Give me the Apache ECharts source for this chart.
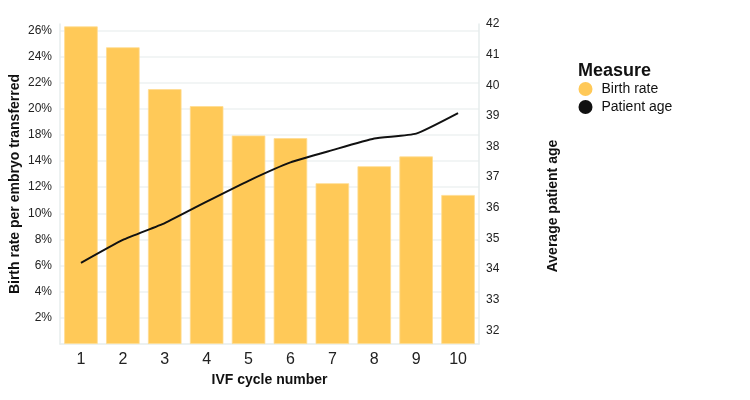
<!DOCTYPE html>
<html>
<head>
<meta charset="utf-8">
<script src="https://cdn.jsdelivr.net/npm/echarts@6/dist/echarts.min.js"></script>
<style>html,body{margin:0;padding:0;background:#fff}#c{width:750px;height:400px}</style>
</head>
<body>
<div id="c"></div>
<script>
var cycles = ['1','2','3','4','5','6','7','8','9','10'];
var birthRate = [26.3, 24.7, 21.5, 20.2, 17.9, 17.5, 12.3, 13.6, 14.7, 11.4];
var patientAge = [34.2, 34.95, 35.5, 36.2, 36.88, 37.48, 37.88, 38.26, 38.42, 39.09];
var leftTicks = [2, 4, 6, 8, 10, 12, 14, 18, 20, 22, 24, 26];
var rightTicks = [32, 33, 34, 35, 36, 37, 38, 39, 40, 41, 42];

// left axis is laid out by tick rank: each labelled tick occupies one even step
var tickStops = [0].concat(leftTicks);
function toRank(v) {
  for (var i = 1; i < tickStops.length; i++) {
    if (v <= tickStops[i]) {
      return (i - 1) + (v - tickStops[i - 1]) / (tickStops[i] - tickStops[i - 1]);
    }
  }
  var n = tickStops.length - 1;
  return n + (v - tickStops[n]) / (tickStops[n] - tickStops[n - 1]);
}
var rankValues = leftTicks.map(function (t, i) { return i + 1; });

var FONT = 'Liberation Sans, Arial, Helvetica, sans-serif';
var chart = echarts.init(document.getElementById('c'));
chart.setOption({
  animation: false,
  textStyle: { fontFamily: FONT },
  title: {
    text: 'Measure', left: 578, top: 62, padding: 0,
    textStyle: { fontFamily: FONT, fontSize: 18, fontWeight: 'bold', color: '#111' }
  },
  legend: {
    orient: 'vertical', left: 578.5, top: 82, padding: 0,
    icon: 'circle', itemWidth: 14, itemHeight: 14, itemGap: 4,
    data: ['Birth rate', 'Patient age'],
    itemStyle: { borderWidth: 0 },
    textStyle: { fontFamily: FONT, fontSize: 14, color: '#111', padding: [0, 0, 0, 4] }
  },
  grid: { left: 60, top: 24, width: 419, height: 320, containLabel: false, outerBoundsMode: 'none' },
  xAxis: {
    type: 'category', data: cycles,
    name: 'IVF cycle number', nameLocation: 'middle', nameGap: 28,
    nameTextStyle: { fontFamily: FONT, fontSize: 14, fontWeight: 'bold', color: '#111' },
    axisLine: { show: true, lineStyle: { color: '#e6eded', width: 1.5 } },
    axisTick: { show: false },
    axisLabel: { fontFamily: FONT, fontSize: 16, color: '#222', margin: 8 }
  },
  yAxis: [{
    type: 'value', min: 0, max: 320 / 26.14,
    name: 'Birth rate per embryo transferred', nameLocation: 'middle', nameGap: 37.5,
    nameMoveOverlap: false,
    nameTextStyle: { fontFamily: FONT, fontSize: 14, fontWeight: 'bold', color: '#111' },
    axisLine: { show: true, lineStyle: { color: '#e6eded', width: 1.5 } },
    axisTick: { show: false, customValues: rankValues },
    splitLine: { show: true, lineStyle: { color: '#eef2f2', width: 1.5 } },
    axisLabel: {
      customValues: rankValues,
      fontFamily: FONT, fontSize: 12, color: '#222', margin: 8,
      formatter: function (v) {
        var i = Math.round(v) - 1;
        return leftTicks[i] !== undefined ? leftTicks[i] + '%' : '';
      }
    }
  }, {
    type: 'value', min: 31.55, max: 42, position: 'right',
    axisLine: { show: true, lineStyle: { color: '#e6eded', width: 1.5 } },
    axisTick: { show: false, customValues: rightTicks },
    splitLine: { show: false },
    axisLabel: {
      customValues: rightTicks,
      fontFamily: FONT, fontSize: 12, color: '#222', margin: 7
    }
  }],
  graphic: [{
    type: 'text', x: 553.5, y: 206, rotation: Math.PI / 2,
    style: {
      text: 'Average patient age', fill: '#111',
      font: 'bold 14px ' + FONT, textAlign: 'center', textVerticalAlign: 'middle'
    }
  }],
  series: [{
    name: 'Birth rate', type: 'bar', yAxisIndex: 0,
    data: birthRate.map(toRank),
    barCategoryGap: '20%',
    itemStyle: { color: '#ffc958', borderColor: '#ffdc90', borderWidth: 0.8 }
  }, {
    name: 'Patient age', type: 'line', yAxisIndex: 1,
    data: patientAge, smooth: 0.15,
    symbol: 'none', showSymbol: false,
    itemStyle: { color: '#111' },
    lineStyle: { color: '#111', width: 2 }
  }]
});
</script>
</body>
</html>
